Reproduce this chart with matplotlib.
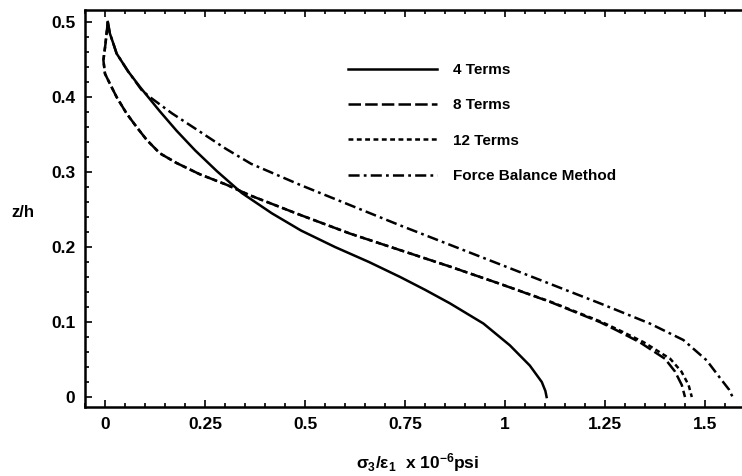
"""Stress distribution through the thickness for several series lengths."""

import matplotlib

matplotlib.use("Agg")
import matplotlib.pyplot as plt
from matplotlib.ticker import MultipleLocator

# values
z_4 = [0.500, 0.485, 0.471, 0.458, 0.434, 0.413, 0.381, 0.355, 0.329, 0.301,
       0.272, 0.245, 0.222, 0.200, 0.180, 0.160, 0.143, 0.125, 0.098, 0.069,
       0.042, 0.020, 0.008, 0.0]
sigma_4 = [0.007, 0.012, 0.021, 0.029, 0.058, 0.088, 0.137, 0.179, 0.225, 0.280,
           0.342, 0.417, 0.490, 0.575, 0.660, 0.738, 0.800, 0.862, 0.946, 1.012,
           1.062, 1.092, 1.101, 1.104]

z_8 = [0.500, 0.470, 0.449, 0.431, 0.418, 0.400, 0.378, 0.360, 0.343, 0.325,
       0.312, 0.297, 0.283, 0.269, 0.243, 0.218, 0.196, 0.174, 0.151, 0.127,
       0.100, 0.089, 0.073, 0.051, 0.034, 0.016, 0.0]
sigma_8 = [0.007, 0.001, -0.004, 0.000, 0.012, 0.029, 0.054, 0.079, 0.104, 0.137,
           0.179, 0.237, 0.304, 0.362, 0.487, 0.612, 0.737, 0.862, 0.987, 1.112,
           1.237, 1.279, 1.337, 1.400, 1.425, 1.442, 1.450]

z_12 = [0.500, 0.470, 0.449, 0.431, 0.418, 0.400, 0.378, 0.360, 0.343, 0.325,
        0.312, 0.297, 0.283, 0.269, 0.243, 0.218, 0.196, 0.174, 0.151, 0.127,
        0.100, 0.089, 0.073, 0.051, 0.034, 0.016, 0.0]
sigma_12 = [0.007, 0.001, -0.004, 0.000, 0.012, 0.029, 0.054, 0.079, 0.104, 0.137,
            0.179, 0.237, 0.304, 0.362, 0.487, 0.612, 0.737, 0.862, 0.987, 1.114,
            1.242, 1.286, 1.347, 1.413, 1.441, 1.459, 1.467]

z_fb = [0.500, 0.485, 0.471, 0.458, 0.434, 0.409, 0.400, 0.378, 0.356, 0.331,
        0.311, 0.283, 0.256, 0.229, 0.203, 0.177, 0.151, 0.125, 0.098, 0.076,
        0.049, 0.023, 0.010, 0.0]
sigma_fb = [0.007, 0.012, 0.021, 0.029, 0.058, 0.092, 0.112, 0.168, 0.231, 0.302,
            0.365, 0.487, 0.612, 0.737, 0.862, 0.987, 1.112, 1.237, 1.362, 1.446,
            1.504, 1.541, 1.560, 1.569]

labels = ["4 Terms", "8 Terms", "12 Terms", "Force Balance Method"]

plt.rcParams["font.family"] = ["Liberation Sans", "DejaVu Sans"]
plt.rcParams["font.weight"] = "bold"
plt.rcParams["mathtext.fontset"] = "custom"
plt.rcParams["mathtext.rm"] = "Liberation Sans:bold"
plt.rcParams["mathtext.it"] = "Liberation Sans:bold"
plt.rcParams["mathtext.bf"] = "Liberation Sans:bold"
plt.rcParams["lines.scale_dashes"] = False

fig = plt.figure(figsize=(7.42, 4.76), dpi=100)
ax = fig.add_axes([85 / 742, 69 / 476, 657 / 742, 397 / 476])

lw = 1.8
ax.plot(sigma_4, z_4, color="black", lw=lw, label=labels[0])
ax.plot(sigma_8, z_8, color="black", lw=lw, dashes=(9, 3), label=labels[1])
ax.plot(sigma_12, z_12, color="black", lw=lw, dashes=(3.5, 2.5), label=labels[2])
ax.plot(sigma_fb, z_fb, color="black", lw=lw, dashes=(8, 3, 2, 3), label=labels[3])

ax.set_xlim(-0.05, 1.5925)
ax.set_ylim(-0.0133, 0.516)

ax.xaxis.set_major_locator(MultipleLocator(0.25))
ax.xaxis.set_minor_locator(MultipleLocator(0.05))
ax.yaxis.set_major_locator(MultipleLocator(0.1))
ax.yaxis.set_minor_locator(MultipleLocator(0.02))
ax.set_xticks([0, 0.25, 0.5, 0.75, 1, 1.25, 1.5])
ax.set_xticklabels(["0", "0.25", "0.5", "0.75", "1", "1.25", "1.5"])
ax.set_yticks([0, 0.1, 0.2, 0.3, 0.4, 0.5])
ax.set_yticklabels(["0", "0.1", "0.2", "0.3", "0.4", "0.5"])

ax.tick_params(which="both", direction="in", top=True, right=False,
               width=1.2, labelsize=12.5, pad=7)
ax.tick_params(which="major", length=5)
ax.tick_params(which="minor", length=3)

for side in ["left", "bottom", "top"]:
    ax.spines[side].set_linewidth(1.8)
ax.spines["right"].set_visible(False)

ax.set_ylabel("z/h", rotation=0, fontsize=12, fontweight="bold",
              va="center", ha="center")
ax.yaxis.set_label_coords(-0.094, 0.489)
ax.set_xlabel(r"$\sigma_3/\varepsilon_1$  x 10$^{-6}$psi", fontsize=12.5,
              fontweight="bold", va="center")
ax.xaxis.set_label_coords(0.507, -0.141)

ax.legend(
    loc="upper left",
    bbox_to_anchor=(348 / 742, 1 - 63 / 476),
    bbox_transform=fig.transFigure,
    frameon=False,
    fontsize=11,
    handlelength=5.8,
    handletextpad=1.1,
    labelspacing=1.4,
    borderpad=0,
    borderaxespad=0,
)

fig.savefig("out.png", dpi=100)
